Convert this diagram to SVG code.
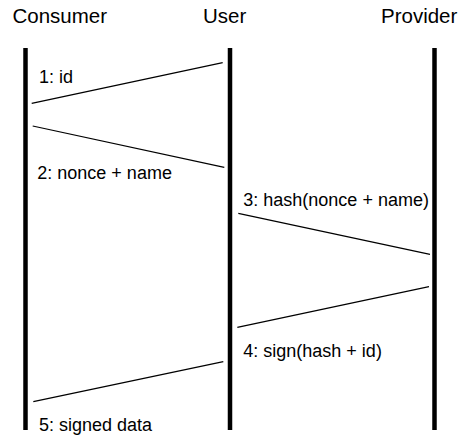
<svg xmlns="http://www.w3.org/2000/svg" width="459" height="436" viewBox="0 0 459 436">
<style>
.title{font-family:"Liberation Sans",Arial,sans-serif;font-size:20.5px;fill:#000}
.lbl{font-family:"Liberation Sans",Arial,sans-serif;font-size:18px;fill:#000}
.life{stroke:#000;stroke-width:4.5;fill:none}
.msg{stroke:#000;stroke-width:1.2;fill:none}
</style>
<rect width="459" height="436" fill="#fff"/>
<g id="consumer">
<text class="title" x="12.5" y="23">Consumer</text>
<line class="life" x1="25.5" y1="48" x2="25.5" y2="430"/>
</g>
<g id="user">
<text class="title" x="203" y="23">User</text>
<line class="life" x1="230" y1="48" x2="230" y2="430"/>
</g>
<g id="provider">
<text class="title" x="381" y="23">Provider</text>
<line class="life" x1="434.5" y1="48" x2="434.5" y2="430"/>
</g>
<g id="connectors">
<line class="msg" x1="222.7" y1="62.7" x2="31.7" y2="103.3"/>
<line class="msg" x1="32.7" y1="126" x2="224.3" y2="167.3"/>
<line class="msg" x1="238.3" y1="213.3" x2="430" y2="254.3"/>
<line class="msg" x1="429" y1="286.7" x2="237.3" y2="327.3"/>
<line class="msg" x1="223.3" y1="361.7" x2="33.3" y2="401.7"/>
<text class="lbl" x="39" y="83">1: id</text>
<text class="lbl" x="37.3" y="179">2: nonce + name</text>
<text class="lbl" x="243.3" y="206">3: hash(nonce + name)</text>
<text class="lbl" x="243.3" y="357">4: sign(hash + id)</text>
<text class="lbl" x="39" y="431">5: signed data</text>
</g>
</svg>
